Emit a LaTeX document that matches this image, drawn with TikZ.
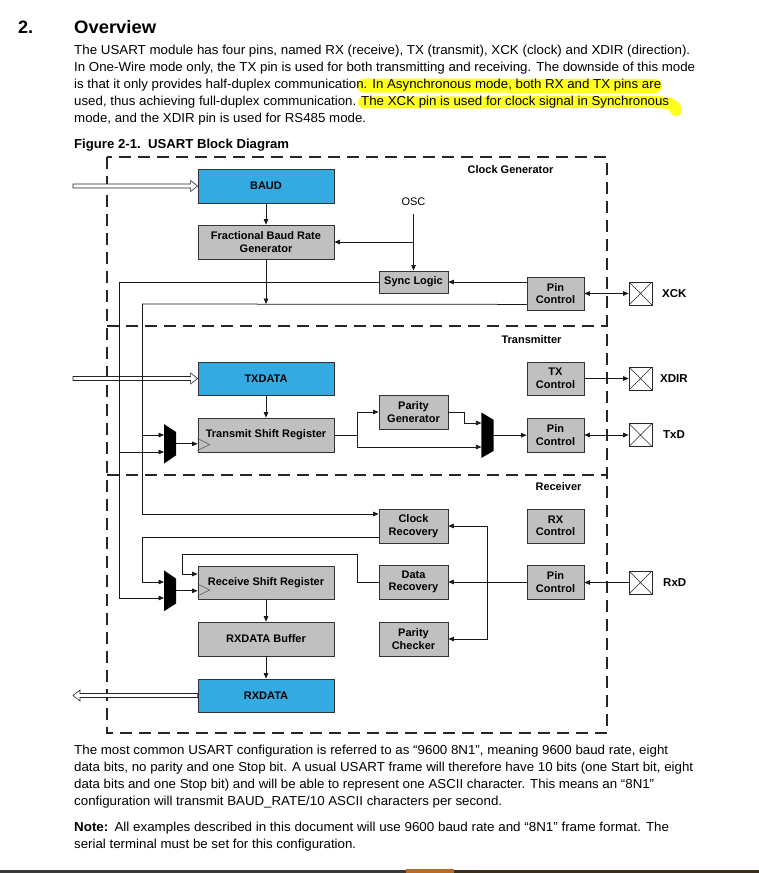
\documentclass[tikz,border=0pt]{standalone}
\usepackage{fontspec}
\setmainfont{Liberation Sans}
\usepackage{graphicx}
\usetikzlibrary{arrows.meta,calc}
\definecolor{boxblue}{RGB}{51,170,226}
\definecolor{boxgray}{RGB}{192,192,192}
\definecolor{hlyellow}{RGB}{255,255,30}
\definecolor{linec}{RGB}{25,25,25}
\definecolor{barl}{RGB}{58,58,58}
\definecolor{barm}{RGB}{184,106,40}
\definecolor{barr}{RGB}{58,46,31}
\newcommand\bodyline[4]{\node[anchor=base west, inner sep=0pt, font=\fontsize{13}{15}\selectfont] (#1) at (74,#2) {\resizebox{#3pt}{\height}{#4}};}
\newcommand\hollowarrow[3]{%
  \filldraw[fill=white, draw=black!85, line width=0.6pt]
    ($(#1)+(0,-2)$) -- ($(#2)+(-7*#3,-2)$) -- ($(#2)+(-7*#3,-5.5)$) -- (#2) --
    ($(#2)+(-7*#3,5.5)$) -- ($(#2)+(-7*#3,2)$) -- ($(#1)+(0,2)$) -- cycle;}
\begin{document}
\begin{tikzpicture}[x=1pt,y=-1pt,
  blk/.style={draw=black!80, line width=0.8pt, fill=boxgray, inner sep=0pt, align=center,
    font=\fontsize{11}{12.5}\selectfont\bfseries},
  bluebk/.style={blk, fill=boxblue},
  wideb/.style={minimum width=136pt, minimum height=34pt},
  midb/.style={minimum width=69pt, minimum height=34pt},
  pinb/.style={minimum width=57pt, minimum height=34pt},
  padb/.style={draw=black!85, line width=0.7pt, fill=white, minimum size=23pt, inner sep=0pt,
    path picture={\draw[line width=0.6pt] (path picture bounding box.north west) -- (path picture bounding box.south east)
      (path picture bounding box.south west) -- (path picture bounding box.north east);}},
  sect/.style={font=\fontsize{11}{13}\selectfont\bfseries, inner sep=0pt},
  pinlbl/.style={font=\fontsize{11.5}{13}\selectfont\bfseries, inner sep=0pt, anchor=west},
  muxb/.style={inner sep=0pt, minimum width=11.7pt},
  wire/.style={draw=linec, line width=0.75pt},
  arr/.style={wire, -{Triangle[length=5.5pt,width=4.5pt]}},
  darr/.style={wire, {Triangle[length=5.5pt,width=4.5pt]}-{Triangle[length=5.5pt,width=4.5pt]}},
  dashbox/.style={draw=black!85, line width=1.6pt, dash pattern=on 12pt off 7pt}
]
\useasboundingbox (0,0) rectangle (759,873);
\fill[white] (0,0) rectangle (759,873);

% highlighter strokes
\draw[hlyellow, line width=14pt, line cap=round] (364,85.5) -- (655,86);
\draw[hlyellow, line width=12pt, line cap=round, line join=round]
  (364,102.5) -- (640,102) .. controls (666,101.5) and (674,103) .. (676,110);

% heading and text above
\node[anchor=base west, inner sep=0pt, font=\fontsize{18}{20}\selectfont\bfseries] (hnum) at (18,33) {2.};
\node[anchor=base west, inner sep=0pt, font=\fontsize{18}{20}\selectfont\bfseries] (htitle) at (74,33) {\resizebox{82pt}{\height}{Overview}};
\bodyline{t1}{54.5}{616}{The USART module has four pins, named RX (receive), TX (transmit), XCK (clock) and XDIR (direction).}
\bodyline{t2}{71.6}{621}{In One-Wire mode only, the TX pin is used for both transmitting and receiving. The downside of this mode}
\bodyline{t3}{88.9}{587}{is that it only provides half-duplex communication. In Asynchronous mode, both RX and TX pins are}
\bodyline{t4}{105.8}{595}{used, thus achieving full-duplex communication. The XCK pin is used for clock signal in Synchronous}
\bodyline{t5}{122.9}{292}{mode, and the XDIR pin is used for RS485 mode.}
\node[anchor=base west, inner sep=0pt, font=\fontsize{13}{15}\selectfont\bfseries] (cap) at (74,148.5) {\resizebox{215pt}{\height}{Figure 2-1.\ \ USART Block Diagram}};

% dashed frame
\draw[dashbox] (107,157) rectangle (607,733);
\draw[dashbox] (107,326) -- (607,326);
\draw[dashbox] (107,475) -- (607,475);
\node[sect] (lcg) at (510.5,170) {Clock Generator};
\node[sect] (ltx) at (531.5,340) {Transmitter};
\node[sect] (lrx) at (558.5,487) {Receiver};

% clock generator
\node[bluebk, wideb] (baud) at (266,186) {BAUD};
\node[blk, wideb] (frac) at (266,242) {Fractional Baud Rate\\Generator};
\node[font=\fontsize{11}{13}\selectfont, inner sep=1pt] (osc) at (413.5,202) {OSC};
\node[blk, minimum width=69pt, minimum height=22pt] (sync) at (413.5,282) {Sync Logic};
\node[blk, minimum width=57pt, minimum height=33pt] (pinxck) at (555.5,293.5) {Pin\\Control};
\node[padb] (xckpin) at (640.5,293.5) {};
\node[pinlbl] (xcklbl) at (662,293.5) {XCK};

% transmitter
\node[bluebk, minimum width=136pt, minimum height=33pt] (txdata) at (266,378.5) {TXDATA};
\node[blk, wideb] (tsr) at (266,435) {Transmit Shift Register};
\node[blk, midb] (parg) at (413.5,412) {Parity\\Generator};
\node[blk, minimum width=57pt, minimum height=33pt] (txctl) at (555.5,378.5) {TX\\Control};
\node[blk, pinb] (pintx) at (555.5,435) {Pin\\Control};
\node[padb] (xdirpin) at (640.5,378.5) {};
\node[pinlbl] (xdirlbl) at (660,378.5) {XDIR};
\node[padb] (txdpin) at (640.5,435) {};
\node[pinlbl] (txdlbl) at (663,435) {TxD};

% receiver
\node[blk, midb] (clkrec) at (413.5,526) {Clock\\Recovery};
\node[blk, pinb] (rxctl) at (555.5,526) {RX\\Control};
\node[blk, midb] (datrec) at (413.5,582) {Data\\Recovery};
\node[blk, pinb] (pinrx) at (555.5,582) {Pin\\Control};
\node[blk, midb] (parchk) at (413.5,639) {Parity\\Checker};
\node[padb] (rxdpin) at (640.5,582.5) {};
\node[pinlbl] (rxdlbl) at (663,582.5) {RxD};
\node[blk, minimum width=136pt, minimum height=33pt] (rsr) at (266,582.5) {Receive Shift Register};
\node[blk, wideb] (rxbuf) at (266,639) {RXDATA Buffer};
\node[bluebk, minimum width=136pt, minimum height=33pt] (rxdata) at (266,695.5) {RXDATA};

% clock inputs of shift registers
\draw[black!60, line width=0.6pt] ($(tsr.west)+(0,3.5)$) -- ($(tsr.west)+(12,9.5)$) -- ($(tsr.west)+(0,15.5)$);
\draw[black!60, line width=0.6pt] ($(rsr.west)+(0,1.5)$) -- ($(rsr.west)+(12,7.5)$) -- ($(rsr.west)+(0,13.5)$);

% multiplexers
\node[muxb, minimum height=39pt] (mux1) at (170.15,443.8) {};
\node[muxb, minimum height=45pt] (mux2) at (487.5,435.2) {};
\node[muxb, minimum height=40.3pt] (mux3) at (170.15,590.8) {};
\fill[black] (mux1.north west) -- ($(mux1.north east)+(0,8)$) -- ($(mux1.south east)+(0,-8.3)$) -- (mux1.south west) -- cycle;
\fill[black] (mux2.north west) -- ($(mux2.north east)+(0,7.3)$) -- ($(mux2.south east)+(0,-7)$) -- (mux2.south west) -- cycle;
\fill[black] (mux3.north west) -- ($(mux3.north east)+(0,8.3)$) -- ($(mux3.south east)+(0,-7.7)$) -- (mux3.south west) -- cycle;
\coordinate (m1a) at (mux1.west |- 0,435);
\coordinate (m1b) at (mux1.west |- 0,452);
\coordinate (m2a) at (mux2.west |- 0,423);
\coordinate (m2b) at (mux2.west |- 0,447);
\coordinate (m3a) at (mux3.west |- 0,582);
\coordinate (m3b) at (mux3.west |- 0,598);

% bus coordinates
\coordinate (bA1) at (119,282);
\coordinate (bA2) at (119,452);
\coordinate (bA3) at (119,598);
\coordinate (bB1) at (142,304);
\coordinate (bB2) at (142,435);
\coordinate (bB3) at (142,514);
\coordinate (bC1) at (142,537);
\coordinate (bC2) at (142,582);
\coordinate (tj) at (357,435);
\coordinate (rj) at (487,582);
\coordinate (dj1) at (357,582);
\coordinate (dj2) at (357,554);
\coordinate (dj3) at (182,554);
\coordinate (dj4) at (182,574);
\coordinate (hs1) at (73,186);
\coordinate (hs2) at (73,378.5);
\coordinate (hs3) at (73,695.5);

% external hollow arrows
\hollowarrow{hs1}{baud.west}{1}
\hollowarrow{hs2}{txdata.west}{1}
\hollowarrow{rxdata.west}{hs3}{-1}

% clock generator connectors
\draw[arr] (baud.south) -- (frac.north);
\draw[arr] ($(osc.south)+(0,7)$) -- (sync.north);
\draw[arr] (osc.south |- frac.east) -- (frac.east);
\draw[arr] (pinxck.west |- sync.east) -- (sync.east);
\draw[darr] (pinxck.east) -- (xckpin.west);
\draw[wire] (sync.west) -- (bA1);
\draw[arr] (bA1) -- (bA3) -- (m3b);
\draw[arr] (bA2) -- (m1b);
\draw[wire] ($(pinxck.south west)+(0,-6)$) -- (bB1);
\draw[arr] (bB1) -- (bB3) -- (clkrec.west |- bB3);
\draw[arr] (bB2) -- (m1a);
\draw[arr] (frac.south) -- (frac.south |- bB1);

% transmitter connectors
\draw[arr] (txdata.south) -- (tsr.north);
\draw[arr] (mux1.east) -- (mux1.east -| tsr.west);
\draw[wire] (tsr.east) -- (tj);
\draw[arr] (tj) |- (parg.west);
\draw[arr] (tj) |- (m2b);
\draw[arr] (parg.east) -- ($(parg.east)+(16,0)$) |- (m2a);
\draw[arr] (mux2.east) -- (mux2.east -| pintx.west);
\draw[darr] (pintx.east) -- (txdpin.west);
\draw[arr] (txctl.east) -- (xdirpin.west);

% receiver connectors
\draw[arr] (rxdpin.west) -- (pinrx.east |- rxdpin.west);
\draw[arr] (pinrx.west) -- (datrec.east);
\draw[arr] (rj) |- (clkrec.east);
\draw[arr] (rj) |- (parchk.east);
\draw[arr] (clkrec.west |- bC1) -- (bC1) -- (bC2) -- (m3a);
\draw[arr] (mux3.east) -- (mux3.east -| rsr.west);
\draw[arr] (datrec.west) -- (dj1) -- (dj2) -- (dj3) -- (dj4) -- (rsr.west |- dj4);
\draw[arr] (rsr.south) -- (rxbuf.north);
\draw[arr] (rxbuf.south) -- (rxdata.north);

% text below
\bodyline{b1}{754.5}{594}{The most common USART configuration is referred to as “9600 8N1”, meaning 9600 baud rate, eight}
\bodyline{b2}{771.5}{619}{data bits, no parity and one Stop bit. A usual USART frame will therefore have 10 bits (one Start bit, eight}
\bodyline{b3}{788.5}{580}{data bits and one Stop bit) and will be able to represent one ASCII character. This means an “8N1”}
\bodyline{b4}{805.5}{428}{configuration will transmit BAUD\_RATE/10 ASCII characters per second.}
\bodyline{n1}{831.3}{595}{\textbf{Note:}\hspace{6pt}All examples described in this document will use 9600 baud rate and “8N1” frame format. The}
\bodyline{n2}{848}{282}{serial terminal must be set for this configuration.}

% bottom bar
\fill[barl] (0,870) rectangle (406,873);
\fill[barm] (406,869) rectangle (454,873);
\fill[barr] (454,870) rectangle (759,873);
\end{tikzpicture}
\end{document}
